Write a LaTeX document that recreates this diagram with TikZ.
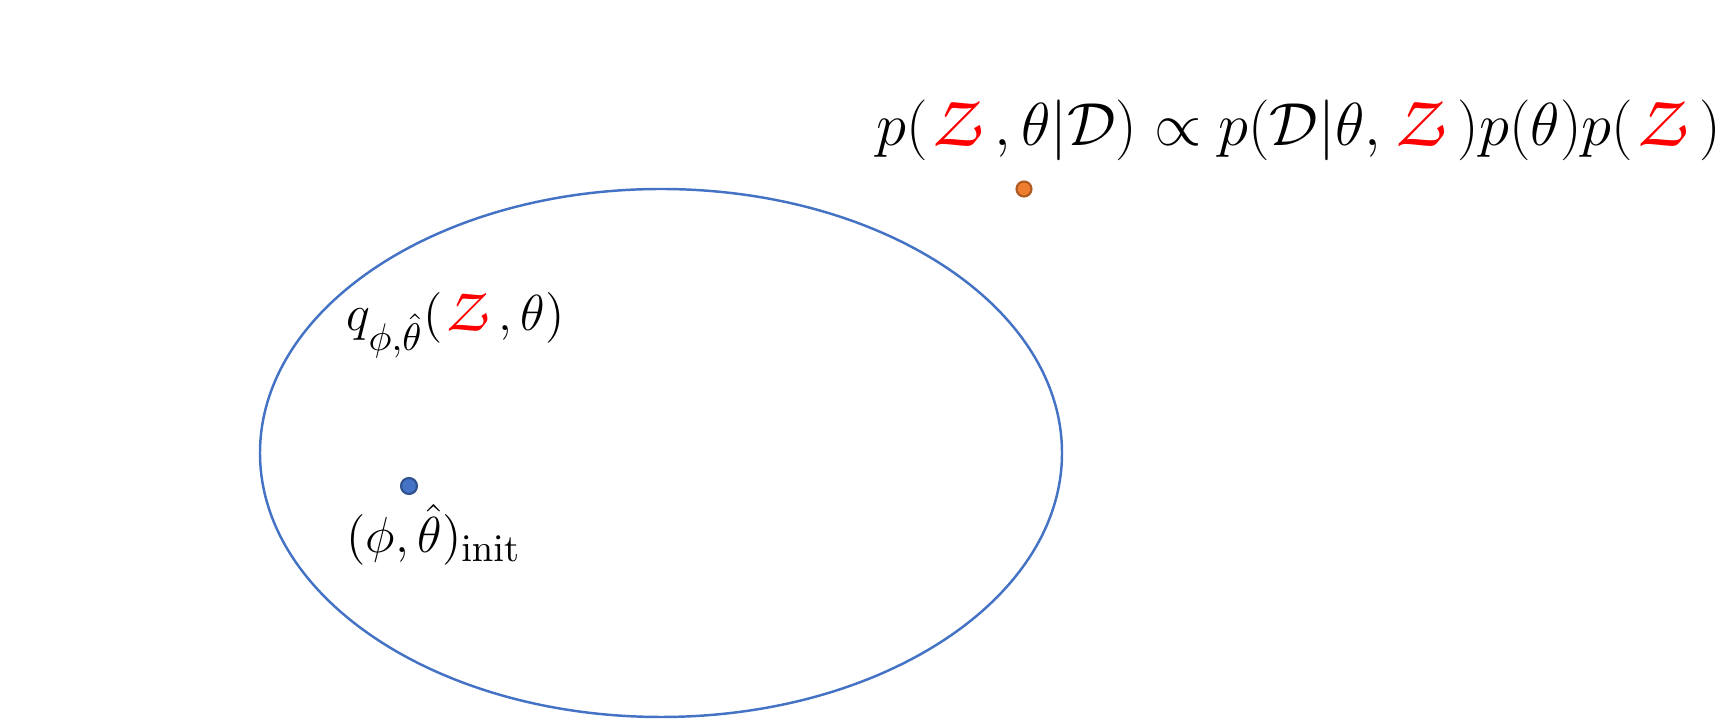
\documentclass[tikz,border=0pt]{standalone}
\usepackage{amsmath}
\usepackage{graphicx}
\DeclareMathAlphabet{\mathpzc}{OT1}{pzc}{m}{it}
\definecolor{ellblue}{HTML}{4472C4}
\definecolor{dotblue}{HTML}{4472C4}
\definecolor{dotblueline}{HTML}{2F528F}
\definecolor{dotorange}{HTML}{ED7D31}
\definecolor{dotorangeline}{HTML}{AE5A21}
\newcommand{\rZ}{\mkern1mu{\color{red}\text{\scalebox{1.15}{$\mathpzc{Z}$}}}\mkern4mu}
\tikzset{
  lbl/.style={anchor=base west, inner sep=0pt, font=\fontsize{18.3}{22}\selectfont},
  lblq/.style={anchor=base west, inner sep=0pt, font=\fontsize{15.5}{19}\selectfont},
  lbls/.style={anchor=base west, inner sep=0pt, font=\fontsize{15}{19}\selectfont},
  dotb/.style={circle, fill=dotblue, draw=dotblueline, line width=0.6pt, minimum size=0.16cm, inner sep=0pt},
  doto/.style={circle, fill=dotorange, draw=dotorangeline, line width=0.6pt, minimum size=0.15cm, inner sep=0pt},
}
\begin{document}
\begin{tikzpicture}[x=0.01cm,y=-0.01cm]
\useasboundingbox (0,0) rectangle (1732,719);
\draw[ellblue, line width=0.7pt] (661,453) ellipse [x radius=401, y radius=264];
\node[lbl] (post) at (876,146) {$p(\rZ,\theta|\mathcal{D}) \propto p(\mathcal{D}|\theta,\rZ)p(\theta)p(\rZ)$};
\node[doto] (target) at (1024,189) {};
\node[lblq] (q) at (346,331) {$q_{\phi,\hat{\theta}}(\rZ,\theta)$};
\node[dotb] (init) at (409,486) {};
\node[lbls] (initlbl) at (346,553) {$(\phi,\hat{\theta})_{\mathrm{init}}$};
\end{tikzpicture}
\end{document}
